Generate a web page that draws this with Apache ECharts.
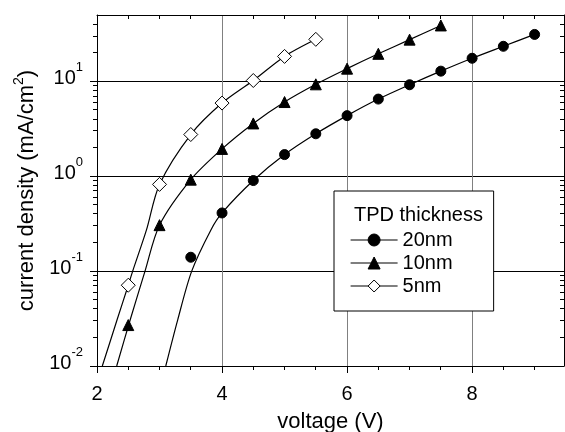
<!DOCTYPE html>
<html>
<head>
<meta charset="utf-8">
<script src="https://cdn.jsdelivr.net/npm/echarts@6/dist/echarts.min.js"></script>
<style>
  html, body { margin: 0; padding: 0; background: #fff; }
  #chart { width: 565px; height: 432px; }
</style>
</head>
<body>
<div id="chart"></div>
<script>
// Measured J-V points for each TPD layer thickness (voltage in V, current density in mA/cm^2)
const voltage20 = [3.5, 4, 4.5, 5, 5.5, 6, 6.5, 7, 7.5, 8, 8.5, 9];
const current20 = [0.14, 0.41, 0.90, 1.69, 2.8, 4.35, 6.5, 9.2, 12.8, 17.5, 23.4, 31.2];
const voltage10 = [2.5, 3, 3.5, 4, 4.5, 5, 5.5, 6, 6.5, 7, 7.5];
const current10 = [0.027, 0.305, 0.92, 1.94, 3.6, 6.05, 9.3, 13.6, 19.5, 27.5, 38.8];
const voltage5 = [2.5, 3, 3.5, 4, 4.5, 5, 5.5];
const current5 = [0.071, 0.82, 2.75, 5.9, 10.2, 18.3, 27.7];

// Fitted curves through each data set
const fitVoltage20 = [3.1, 3.29, 3.515, 3.82, 4, 4.5, 5, 5.5, 6, 6.5, 7, 7.5, 8, 8.5, 9];
const fitCurrent20 = [0.01, 0.0305, 0.1, 0.27, 0.41, 0.90, 1.69, 2.8, 4.35, 6.5, 9.2, 12.8, 17.5, 23.4, 31.2];
const fitVoltage10 = [2.315, 2.53, 2.768, 3, 3.5, 4, 4.5, 5, 5.5, 6, 6.5, 7, 7.5];
const fitCurrent10 = [0.01, 0.0305, 0.1, 0.305, 0.92, 1.94, 3.6, 6.05, 9.3, 13.6, 19.5, 27.5, 38.8];
const fitVoltage5 = [2.085, 2.32, 2.5, 2.571, 2.79, 3, 3.5, 4, 4.5, 5, 5.5];
const fitCurrent5 = [0.01, 0.0305, 0.071, 0.1, 0.27, 0.82, 2.75, 5.9, 10.2, 18.3, 27.7];

const seriesNames = ['20nm', '10nm', '5nm'];
const legendTitle = 'TPD thickness';

// Tick positions
const xMajorTicks = [2, 4, 6, 8];
const xMinorTicks = [2.5, 3, 3.5, 4.5, 5, 5.5, 6.5, 7, 7.5, 8.5, 9];
const xGridLines = [4, 6, 8];
const yMajorTicks = [0.01, 0.1, 1, 10];
const yGridLines = [0.1, 1, 10];
const yMinorTicks = [0.02, 0.03, 0.04, 0.05, 0.06, 0.07, 0.08, 0.09,
                     0.2, 0.3, 0.4, 0.5, 0.6, 0.7, 0.8, 0.9,
                     2, 3, 4, 5, 6, 7, 8, 9,
                     20, 30, 40];

const FONT = '"Liberation Sans", Arial, Helvetica, sans-serif';
const X_MIN = 2, X_MAX = 9.47, Y_MIN = 0.01, Y_MAX = 50;
const X_MID = 5, Y_MID = 1;

const pairs = (xs, ys) => xs.map((x, i) => [x, ys[i]]);

function xAxisBase(extra) {
  return Object.assign({
    type: 'value', min: X_MIN, max: X_MAX,
    axisLine: { show: false, onZero: false, lineStyle: { color: '#000', width: 1 } },
    axisTick: { show: false },
    axisLabel: { show: false },
    splitLine: { show: false }
  }, extra);
}
function yAxisBase(extra) {
  return Object.assign({
    type: 'log', logBase: 10, min: Y_MIN, max: Y_MAX,
    axisLine: { show: false, onZero: false, lineStyle: { color: '#000', width: 1 } },
    axisTick: { show: false },
    axisLabel: { show: false },
    splitLine: { show: false }
  }, extra);
}

// A tick mark is a 1px filled bar snapped to the pixel grid
const tickBar = (x, y, w, h) => ({
  type: 'rect',
  shape: { x: Math.round(x), y: Math.round(y), width: Math.max(1, Math.round(w)), height: Math.max(1, Math.round(h)) },
  style: { fill: '#000' }
});

// Tick marks along the x frame: outward below the plot, optionally inward along the top
function xTickRenderer(length, withTop) {
  return function (params, api) {
    const px = api.coord([api.value(0), Y_MID])[0];
    const rect = params.coordSys;
    const children = [tickBar(px - 0.5, rect.y + rect.height, 1, length)];
    if (withTop) children.push(tickBar(px - 0.5, rect.y, 1, length));
    return { type: 'group', children };
  };
}
// Tick marks along the y frame: outward on the left, optionally inward on the right
function yTickRenderer(length, withRight) {
  return function (params, api) {
    const py = api.coord([X_MID, api.value(1)])[1];
    const rect = params.coordSys;
    const children = [tickBar(rect.x - length, py - 0.5, length, 1)];
    if (withRight) children.push(tickBar(rect.x + rect.width - length, py - 0.5, length, 1));
    return { type: 'group', children };
  };
}
const tickSeries = (name, data, renderItem) => ({
  name, type: 'custom', coordinateSystem: 'cartesian2d', xAxisIndex: 0, yAxisIndex: 0,
  encode: { x: 0, y: 1 },
  data, renderItem, silent: true, clip: false, z: 5
});

const chart = echarts.init(document.getElementById('chart'), null, { renderer: 'canvas' });

const option = {
  animation: false,
  backgroundColor: '#fff',
  grid: { left: 97, right: 1, top: 15, bottom: 66, outerBoundsMode: 'none', containLabel: false },
  title: {
    text: legendTitle,
    left: 354, top: 205, padding: 0,
    textStyle: { fontFamily: FONT, fontSize: 20, fontWeight: 'normal', color: '#000' }
  },
  legend: {
    data: seriesNames,
    orient: 'vertical',
    left: 334, top: 191,
    padding: [39, 41, 15, 16],
    itemGap: 3,
    itemWidth: 47,
    itemHeight: 15,
    backgroundColor: '#fff',
    borderColor: '#000',
    borderWidth: 1,
    borderRadius: 0,
    selectedMode: false,
    textStyle: { fontFamily: FONT, fontSize: 20, color: '#000' },
    lineStyle: { color: '#000', width: 1.2, opacity: 1, type: 'solid' },
    itemStyle: { borderWidth: 1, borderColor: '#000' }
  },
  xAxis: [
    // bottom axis: line, labels, title
    xAxisBase({
      position: 'bottom',
      axisLine: { show: true, onZero: false, lineStyle: { color: '#000', width: 1 } },
      axisLabel: { show: true, customValues: xMajorTicks, margin: 18, color: '#000', fontSize: 20, fontFamily: FONT },
      name: 'voltage (V)', nameLocation: 'middle', nameGap: 45,
      nameTextStyle: { fontFamily: FONT, fontSize: 22, color: '#000' }
    }),
    // top frame
    xAxisBase({
      position: 'top',
      axisLine: { show: true, onZero: false, lineStyle: { color: '#000', width: 1 } }
    }),
    // vertical grid lines
    xAxisBase({
      position: 'bottom',
      axisTick: { show: false, customValues: xGridLines },
      splitLine: { show: true, lineStyle: { color: '#808080', width: 1 } }
    })
  ],
  yAxis: [
    // left axis: line, labels, horizontal grid lines, title
    yAxisBase({
      position: 'left',
      axisLine: { show: true, onZero: false, lineStyle: { color: '#000', width: 1 } },
      axisTick: { show: false, customValues: yGridLines },
      axisLabel: {
        show: true, customValues: yMajorTicks, margin: 14, padding: [0, 0, 6, 0],
        formatter: v => '{b|10}{sup|' + Math.round(Math.log10(v)) + '}',
        rich: {
          b: { fontFamily: FONT, fontSize: 20, lineHeight: 20, color: '#000', verticalAlign: 'bottom' },
          sup: { fontFamily: FONT, fontSize: 13, lineHeight: 13, color: '#000', verticalAlign: 'bottom', padding: [0, 0, 14, 0] }
        }
      },
      splitLine: { show: true, lineStyle: { color: '#000', width: 1 } },
      name: '{b|current density (mA/cm}{sup|2}{b|)}',
      nameLocation: 'middle', nameGap: 57,
      nameTextStyle: {
        rich: {
          b: { fontFamily: FONT, fontSize: 22, lineHeight: 22, color: '#000', verticalAlign: 'bottom' },
          sup: { fontFamily: FONT, fontSize: 14, lineHeight: 14, color: '#000', verticalAlign: 'bottom', padding: [0, 0, 12, 0] }
        }
      }
    }),
    // right frame
    yAxisBase({
      position: 'right',
      axisLine: { show: true, onZero: false, lineStyle: { color: '#000', width: 1 } }
    })
  ],
  series: [
    // fitted curves
    { name: '20nm fit', type: 'line', data: pairs(fitVoltage20, fitCurrent20) },
    { name: '10nm fit', type: 'line', data: pairs(fitVoltage10, fitCurrent10) },
    { name: '5nm fit', type: 'line', data: pairs(fitVoltage5, fitCurrent5) }
  ].map(s => Object.assign(s, {
    xAxisIndex: 0, yAxisIndex: 0,
    symbol: 'none', showSymbol: false, smooth: 0.3,
    lineStyle: { color: '#000', width: 1.2 },
    silent: true, z: 2, clip: true
  })).concat([
    // measured points
    {
      name: seriesNames[0], data: pairs(voltage20, current20),
      symbol: 'circle', symbolSize: 10,
      itemStyle: { color: '#000', borderColor: '#000', borderWidth: 1 }
    },
    {
      name: seriesNames[1], data: pairs(voltage10, current10),
      symbol: 'triangle', symbolSize: 11,
      itemStyle: { color: '#000', borderColor: '#000', borderWidth: 1 }
    },
    {
      name: seriesNames[2], data: pairs(voltage5, current5),
      symbol: 'diamond', symbolSize: 14,
      itemStyle: { color: '#fff', borderColor: '#000', borderWidth: 1 }
    }
  ].map(s => Object.assign(s, {
    type: 'line', xAxisIndex: 0, yAxisIndex: 0,
    showSymbol: true, showAllSymbol: true,
    lineStyle: { width: 0, color: '#000' },
    emphasis: { disabled: true },
    silent: true, z: 3, clip: false
  }))).concat([
    // frame tick marks
    tickSeries('x major ticks', xMajorTicks.map(v => [v, Y_MID]), xTickRenderer(7, false)),
    tickSeries('x minor ticks', xMinorTicks.map(v => [v, Y_MID]), xTickRenderer(4, true)),
    tickSeries('y major ticks', yMajorTicks.map(v => [X_MID, v]), yTickRenderer(7, false)),
    tickSeries('y minor ticks', yMinorTicks.map(v => [X_MID, v]), yTickRenderer(4, true))
  ])
};

chart.setOption(option);
</script>
</body>
</html>
